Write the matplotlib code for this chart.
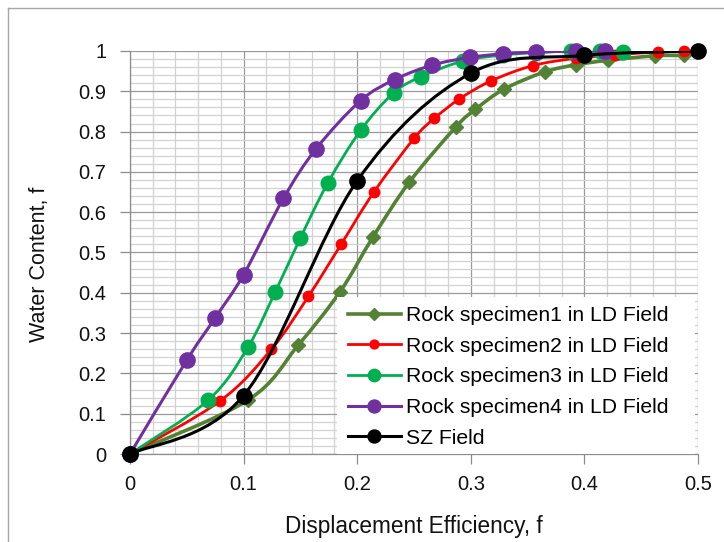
import numpy as np
import matplotlib
matplotlib.use("Agg")
import matplotlib.pyplot as plt
from matplotlib.path import Path
from matplotlib.patches import PathPatch, Rectangle
from matplotlib.lines import Line2D
from matplotlib.ticker import MultipleLocator, FuncFormatter

plt.rcParams['font.family'] = ['Liberation Sans', 'DejaVu Sans']

# Displacement efficiency (x) and water content (y) for each series
rock1_x = [0, 0.104, 0.148, 0.185, 0.214, 0.246, 0.287, 0.304, 0.329, 0.365, 0.393, 0.421, 0.462, 0.4875]
rock1_y = [0, 0.134, 0.270, 0.403, 0.539, 0.675, 0.812, 0.855, 0.905, 0.948, 0.966, 0.977, 0.988, 0.989]

rock2_x = [0, 0.079, 0.1245, 0.157, 0.186, 0.2147, 0.250, 0.268, 0.290, 0.318, 0.355, 0.393, 0.427, 0.465, 0.4875]
rock2_y = [0, 0.131, 0.260, 0.391, 0.521, 0.650, 0.783, 0.833, 0.881, 0.926, 0.964, 0.982, 0.990, 0.998, 0.999]

rock3_x = [0, 0.069, 0.104, 0.128, 0.150, 0.174, 0.203, 0.232, 0.256, 0.293, 0.328, 0.357, 0.388, 0.414, 0.434]
rock3_y = [0, 0.134, 0.266, 0.403, 0.536, 0.672, 0.803, 0.896, 0.936, 0.975, 0.990, 0.996, 1.0, 1.0, 0.997]

rock4_x = [0, 0.050, 0.075, 0.100, 0.135, 0.164, 0.203, 0.233, 0.266, 0.299, 0.328, 0.357, 0.393, 0.418]
rock4_y = [0, 0.233, 0.338, 0.445, 0.634, 0.758, 0.877, 0.929, 0.965, 0.984, 0.993, 0.997, 1.0, 1.0]

sz_x = [0, 0.1, 0.2, 0.3, 0.4, 0.5]
sz_y = [0, 0.145, 0.678, 0.945, 0.989, 1.0]

labels = ["Rock specimen1 in LD Field", "Rock specimen2 in LD Field",
          "Rock specimen3 in LD Field", "Rock specimen4 in LD Field", "SZ Field"]

x_ticks = [0, 0.1, 0.2, 0.3, 0.4, 0.5]
y_ticks = [0, 0.1, 0.2, 0.3, 0.4, 0.5, 0.6, 0.7, 0.8, 0.9, 1.0]


def smooth_path(xs, ys):
    """Cubic Bezier path through the points (Catmull-Rom style control points)."""
    pts = np.column_stack([xs, ys]).astype(float)
    n = len(pts)
    verts = [pts[0]]
    codes = [Path.MOVETO]
    for i in range(n - 1):
        p0 = pts[max(i - 1, 0)]
        p1 = pts[i]
        p2 = pts[i + 1]
        p3 = pts[min(i + 2, n - 1)]
        verts += [p1 + (p2 - p0) / 6.0, p2 - (p3 - p1) / 6.0, p2]
        codes += [Path.CURVE4] * 3
    return Path(verts, codes)


fig = plt.figure(figsize=(7.24, 5.42), dpi=100)
ax = fig.add_axes([130 / 724, 1 - 454 / 542, 568 / 724, 403 / 542])

series = [
    (rock1_x, rock1_y, '#548235', 'D', 7.5, 2.6),
    (rock2_x, rock2_y, '#FF0000', 'o', 7.5, 2.0),
    (rock3_x, rock3_y, '#00B050', 'o', 10.5, 2.0),
    (rock4_x, rock4_y, '#7030A0', 'o', 11.0, 2.2),
    (sz_x, sz_y, '#000000', 'o', 11.0, 2.2),
]

handles = []
for k, (xs, ys, col, mk, ms, lw) in enumerate(series):
    patch = PathPatch(smooth_path(xs, ys), facecolor='none', edgecolor=col,
                      lw=lw, zorder=3 + 2 * k, capstyle='round', joinstyle='round')
    ax.add_patch(patch)
    ax.plot(xs, ys, ls='none', marker=mk, ms=ms, color=col, mec=col,
            zorder=4 + 2 * k, clip_on=False)
    handles.append(Line2D([], [], color=col, lw=lw, marker=mk,
                          ms=ms * 0.85, mec=col))

ax.set_xlim(0, 0.5)
ax.set_ylim(0, 1)

ax.xaxis.set_minor_locator(MultipleLocator(0.02))
ax.yaxis.set_minor_locator(MultipleLocator(0.02))
ax.set_xticks(x_ticks)
ax.set_yticks(y_ticks)
fmt = FuncFormatter(lambda v, p: ('%.1f' % v).rstrip('0').rstrip('.') if v else '0')
ax.xaxis.set_major_formatter(fmt)
ax.yaxis.set_major_formatter(fmt)

ax.grid(True, which='major', color='#9A9A9A', lw=0.9)
ax.grid(True, which='minor', color='#D2D2D2', lw=0.9)
ax.set_axisbelow(True)

ax.tick_params(axis='both', which='major', direction='out', length=7,
               width=0.9, color='#8C8C8C', labelsize=14.5, labelcolor='#111111')
ax.tick_params(axis='x', which='major', pad=8)
ax.tick_params(axis='y', which='major', pad=10)
ax.tick_params(which='minor', length=0)

for side in ['top', 'right']:
    ax.spines[side].set_visible(False)
for side in ['left', 'bottom']:
    ax.spines[side].set_color('#8C8C8C')
    ax.spines[side].set_linewidth(0.9)

ax.set_xlabel("Displacement Efficiency, f", fontsize=16.3, color='#111111')
ax.set_ylabel("Water Content, f", fontsize=15.5, color='#111111')
ax.xaxis.set_label_coords(0.5, -0.152)
ax.yaxis.set_label_coords(-0.141, 0.471)

# white backing for the legend area
ax.add_patch(Rectangle(((337 - 130) / 568, 0), (695 - 337) / 568, (454 - 297) / 403,
                       transform=ax.transAxes, facecolor='white', edgecolor='none',
                       zorder=15))

leg = ax.legend(handles, labels, loc='lower right', bbox_to_anchor=(0.963, -0.005),
                borderaxespad=0.0, fontsize=15.2, frameon=False,
                handlelength=2.5, handletextpad=0.25, labelspacing=0.55,
                borderpad=0.4, numpoints=1)
leg.set_zorder(20)

# chart area frame
fig.add_artist(Line2D([7.5 / 724, 7.5 / 724], [0, 1 - 8 / 542], transform=fig.transFigure,
                      color='#A6A6A6', lw=1.0))
fig.add_artist(Line2D([7.5 / 724, 1], [1 - 8 / 542, 1 - 8 / 542], transform=fig.transFigure,
                      color='#A6A6A6', lw=1.0))

fig.savefig("out.png", dpi=100)
